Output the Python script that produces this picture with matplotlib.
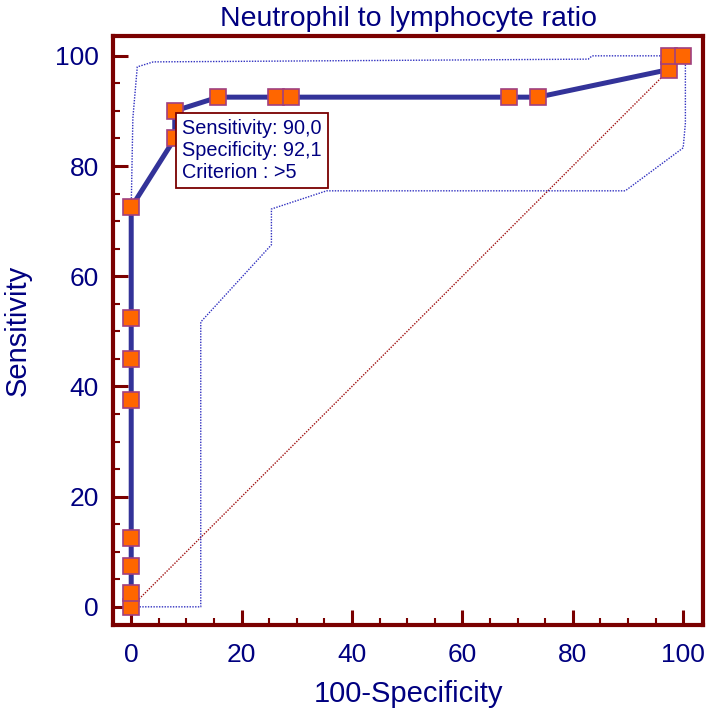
import numpy as np
import matplotlib
matplotlib.use('Agg')
import matplotlib.pyplot as plt
from matplotlib.ticker import MultipleLocator

# ROC curve points (100-Specificity, Sensitivity)
fpr = [0, 0, 0, 0, 0, 0, 0, 0, 7.89, 7.89, 15.79, 26.32, 28.95, 68.42, 73.68, 97.37, 97.37, 100]
tpr = [0, 2.5, 7.5, 12.5, 37.5, 45, 52.5, 72.5, 85, 90, 92.5, 92.5, 92.5, 92.5, 92.5, 97.5, 100, 100]

# confidence bounds
upper_x = [0, 0, 0.3, 1.1, 4.0, 82.8, 83.5, 100]
upper_y = [0, 72.5, 88.7, 98.0, 98.9, 99.4, 100, 100]
lower_x = [0, 12.6, 12.6, 25.4, 25.4, 35.4, 89.5, 100, 100.4, 100.4]
lower_y = [0, 0, 51.7, 65.7, 72.2, 75.5, 75.5, 83.3, 87.8, 100]

title = 'Neutrophil to lymphocyte ratio'
note = 'Sensitivity: 90,0\nSpecificity: 92,1\nCriterion : >5'

navy = '#000080'
maroon = '#7a0000'

plt.rcParams['font.family'] = ['Liberation Sans', 'DejaVu Sans']

fig = plt.figure(figsize=(7.08, 7.10), dpi=100)
ax = fig.add_axes([0.1596, 0.1197, 0.8334, 0.8296])

ax.plot([0, 100], [0, 100], color='#a01010', lw=1.0, ls=(0, (1, 1)), zorder=2)
ax.plot(upper_x, upper_y, color='#3030c0', lw=1.0, ls=(0, (1, 1)), zorder=2)
ax.plot(lower_x, lower_y, color='#3030c0', lw=1.0, ls=(0, (1, 1)), zorder=2)
ax.plot(fpr, tpr, color='#333399', lw=3.6, zorder=3,
        marker='s', ms=11, mfc='#ff6600', mec='#a04080', mew=1.2)

ax.text(9.2, 88.6, note, ha='left', va='top', fontsize=14.3, color=navy,
        linespacing=1.22, zorder=5,
        bbox=dict(boxstyle='square,pad=0.3', fc='white', ec=maroon, lw=1.3))

ax.set_xlim(-3.3, 103.6)
ax.set_ylim(-3.3, 103.6)
ax.xaxis.set_major_locator(MultipleLocator(20))
ax.yaxis.set_major_locator(MultipleLocator(20))
ax.xaxis.set_minor_locator(MultipleLocator(5))
ax.yaxis.set_minor_locator(MultipleLocator(5))

for s in ax.spines.values():
    s.set_color(maroon)
    s.set_linewidth(3)
ax.tick_params(which='major', direction='in', length=11, width=2.2, color=maroon,
               labelsize=19, labelcolor=navy)
ax.tick_params(axis='x', which='major', pad=13)
ax.tick_params(axis='y', which='major', pad=10)
ax.tick_params(which='minor', direction='in', length=5, width=1.5, color=maroon)

ax.set_title(title, fontsize=20.5, color=navy, pad=7)
ax.set_xlabel('100-Specificity', fontsize=21, color=navy, labelpad=9)
ax.set_ylabel('Sensitivity', fontsize=21, color=navy, labelpad=17)

fig.savefig('out.png', dpi=100)
